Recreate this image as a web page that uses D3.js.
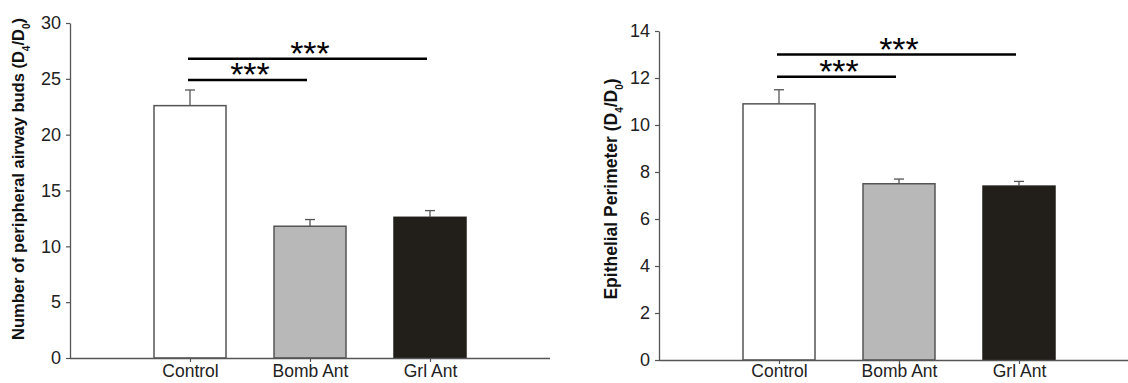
<!DOCTYPE html>
<html>
<head>
<meta charset="utf-8">
<script src="https://cdn.jsdelivr.net/npm/d3@7"></script>
<style>
  body { margin: 0; background: #fff; }
  svg text { font-family: Arial, "Liberation Sans", sans-serif; }
</style>
</head>
<body>
<div id="chart"></div>
<script>
// groups on the x axis
const categories = ["Control", "Bomb Ant", "Grl Ant"];
const barFills = ["#ffffff", "#b8b8b8", "#221f1b"];

// left panel: number of peripheral airway buds
const budMeans = [22.6, 11.8, 12.6];
const budErrors = [1.4, 0.6, 0.6];
const budTicks = [0, 5, 10, 15, 20, 25, 30];
// significance brackets: [from, to, level]
const budSig = [["Control", "Bomb Ant", 24.9], ["Control", "Grl Ant", 26.8]];

// right panel: epithelial perimeter
const periMeans = [10.9, 7.5, 7.4];
const periErrors = [0.6, 0.2, 0.2];
const periTicks = [0, 2, 4, 6, 8, 10, 12, 14];
const periSig = [["Control", "Bomb Ant", 12.05], ["Control", "Grl Ant", 13.0]];

const svg = d3.select("#chart").append("svg")
  .attr("width", 1128)
  .attr("height", 383);

function drawPanel(cfg) {
  const x = d3.scalePoint()
    .domain(categories)
    .range([cfg.left, cfg.left + 480])
    .padding(1);

  const y = d3.scaleLinear()
    .domain([0, cfg.max])
    .range([cfg.bottom, cfg.top]);

  const g = svg.append("g");
  const barW = 72;
  const axisColor = "#555";

  // bars
  g.selectAll(".bar")
    .data(categories)
    .join("rect")
    .attr("x", (d) => x(d) - barW / 2)
    .attr("y", (d, i) => y(cfg.means[i]))
    .attr("width", barW)
    .attr("height", (d, i) => y(0) - y(cfg.means[i]))
    .attr("fill", (d, i) => barFills[i])
    .attr("stroke", (d, i) => (i === 2 ? "#221f1b" : axisColor))
    .attr("stroke-width", 1.5);

  // error bars (upper only)
  categories.forEach((c, i) => {
    const top = y(cfg.means[i] + cfg.errors[i]);
    g.append("line")
      .attr("x1", x(c)).attr("x2", x(c))
      .attr("y1", y(cfg.means[i])).attr("y2", top)
      .attr("stroke", axisColor).attr("stroke-width", 1.3);
    g.append("line")
      .attr("x1", x(c) - 5).attr("x2", x(c) + 5)
      .attr("y1", top).attr("y2", top)
      .attr("stroke", axisColor).attr("stroke-width", 1.3);
  });

  // y axis
  const yAxis = g.append("g")
    .attr("transform", `translate(${cfg.left},0)`)
    .call(d3.axisLeft(y).tickValues(cfg.ticks).tickSize(4).tickPadding(5).tickSizeOuter(0));
  yAxis.selectAll("text").style("font-size", "18px").attr("fill", "#222");

  // x axis
  const xAxis = g.append("g")
    .attr("transform", `translate(0,${cfg.bottom})`)
    .call(d3.axisBottom(x).tickSize(4).tickPadding(cfg.xPad).tickSizeOuter(0));
  xAxis.select(".domain").attr("d", `M${cfg.left},0.5H${cfg.left + 480}`);
  xAxis.selectAll("text").style("font-size", "17.5px").attr("fill", "#222");

  [yAxis, xAxis].forEach((a) => {
    a.select(".domain").attr("stroke", axisColor).attr("stroke-width", 1.3);
    a.selectAll(".tick line").attr("stroke", axisColor).attr("stroke-width", 1.2);
  });

  // significance brackets
  cfg.sig.forEach(([a, b, lvl]) => {
    g.append("line")
      .attr("x1", x(a) - 2).attr("x2", x(b) - 3)
      .attr("y1", y(lvl)).attr("y2", y(lvl))
      .attr("stroke", "#000").attr("stroke-width", 2.5);
    g.append("text")
      .attr("x", (x(a) + x(b)) / 2)
      .attr("y", y(lvl) + 6)
      .attr("text-anchor", "middle")
      .style("font-size", "34px")
      .attr("fill", "#000")
      .text("***");
  });

  // axis title with subscripts
  const t = g.append("text")
    .attr("transform", `translate(${cfg.titleX},${cfg.titleY}) rotate(-90)`)
    .attr("text-anchor", "middle")
    .style("font-size", cfg.titleSize + "px")
    .style("font-weight", "bold")
    .attr("fill", "#111");
  t.append("tspan").text(cfg.title + " (D");
  t.append("tspan").attr("baseline-shift", "sub").style("font-size", "10px").text("4");
  t.append("tspan").text("/D");
  t.append("tspan").attr("baseline-shift", "sub").style("font-size", "10px").text("0");
  t.append("tspan").text(")");
}

drawPanel({
  left: 70, top: 23, bottom: 358, max: 30, xPad: 3,
  means: budMeans, errors: budErrors, ticks: budTicks, sig: budSig,
  title: "Number of peripheral airway buds", titleX: 24, titleY: 179, titleSize: 16.5
});

drawPanel({
  left: 659, top: 31, bottom: 360, max: 14, xPad: 1,
  means: periMeans, errors: periErrors, ticks: periTicks, sig: periSig,
  title: "Epithelial Perimeter", titleX: 617, titleY: 189, titleSize: 17.5
});
</script>
</body>
</html>
